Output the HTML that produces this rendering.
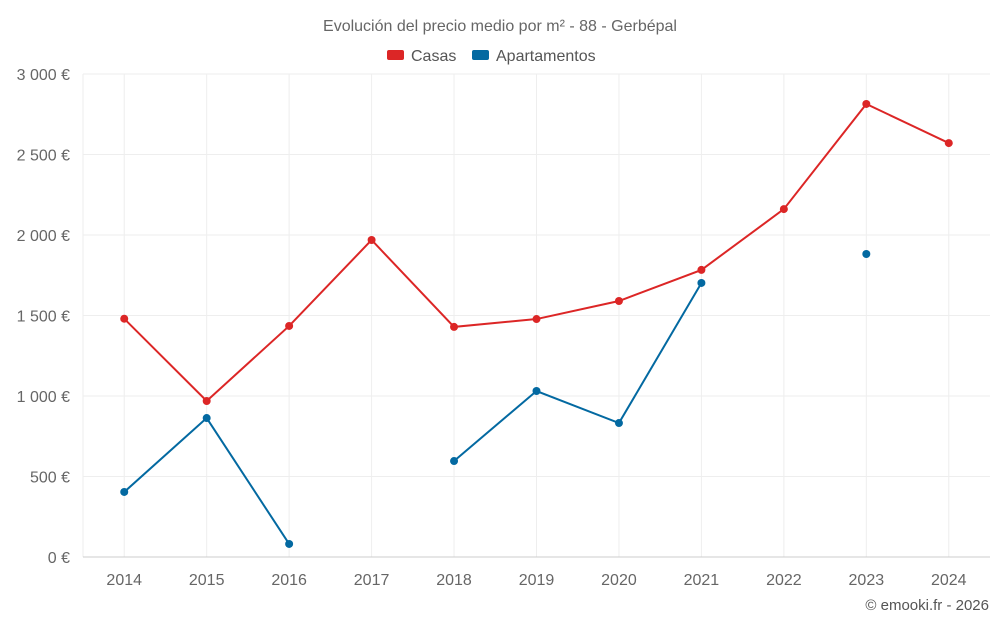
<!DOCTYPE html>
<html><head><meta charset="utf-8"><style>
body{margin:0;background:#fff;font-family:"Liberation Sans",sans-serif}
svg text{font-family:"Liberation Sans",sans-serif}
</style></head><body>
<svg id="chart" width="1000" height="625">
<text x="500" y="31" text-anchor="middle" font-size="16" fill="#666">Evolución del precio medio por m² - 88 - Gerbépal</text>
<g>
<g><rect x="387" y="50" width="17" height="10" rx="2" fill="#dc2626"/><text x="411" y="61" font-size="16" fill="#555">Casas</text></g>
<g><rect x="472" y="50" width="17" height="10" rx="2" fill="#0369a1"/><text x="496" y="61" font-size="16" fill="#555">Apartamentos</text></g>
</g>
<g id="grid"></g><g id="axes"></g><g id="series"></g>
<text x="989" y="610" text-anchor="end" font-size="15" fill="#555">© emooki.fr - 2026</text>
</svg>
<script>
const years=["2014","2015","2016","2017","2018","2019","2020","2021","2022","2023","2024"];
const casas=[1480,969,1435,1969,1429,1478,1590,1783,2161,2814,2571];
const apartamentos=[404,863,81,null,596,1031,832,1702,null,1882,null];
const yTicks=[0,500,1000,1500,2000,2500,3000];
const yLabels=["0 €","500 €","1 000 €","1 500 €","2 000 €","2 500 €","3 000 €"];
const L=83,R=990,T=74,B=557,NS="http://www.w3.org/2000/svg";
const cw=(R-L)/years.length;
const x=i=>L+cw*(i+0.5);
const y=v=>B-(v/3000)*(B-T);
function mk(tag,attrs,parent){const e=document.createElementNS(NS,tag);for(const k in attrs)e.setAttribute(k,attrs[k]);parent.appendChild(e);return e;}
const grid=document.getElementById('grid'),axes=document.getElementById('axes'),ser=document.getElementById('series');
const ledge=mk('line',{x1:L,x2:L,y1:T,y2:B,stroke:'#eee'},grid);


years.forEach((yr,i)=>{
 const l=mk('line',{x1:x(i),x2:x(i),y1:T,y2:B,stroke:'#eee'},grid);
 
 
});
yTicks.forEach((t,i)=>{
 const l=mk('line',{x1:L,x2:R,y1:y(t),y2:y(t),stroke:i==0?'#ccc':'#eee'},grid);
 
 
 const tx=mk('text',{x:70,y:y(t)+6,'text-anchor':'end','font-size':16,fill:'#666'},axes);
 tx.textContent=yLabels[i];
 
 
});
years.forEach((yr,i)=>{
 const tx=mk('text',{x:x(i),y:585,'text-anchor':'middle','font-size':16,fill:'#666'},axes);
 tx.textContent=yr;
 
 
});
function draw(data,color,name){
 let seg=[];const segs=[];
 data.forEach((v,i)=>{if(v==null){if(seg.length)segs.push(seg);seg=[];}else seg.push([x(i),y(v)]);});
 if(seg.length)segs.push(seg);
 segs.forEach(s=>{if(s.length>1){const p=mk('polyline',{points:s.map(p=>p.join(',')).join(' '),fill:'none',stroke:color,'stroke-width':2},ser);
 
 }});
 data.forEach((v,i)=>{if(v==null)return;const c=mk('circle',{cx:x(i),cy:y(v),r:4,fill:color},ser);
 
 });
}
draw(casas,'#dc2626','casas');
draw(apartamentos,'#0369a1','apartamentos');
</script>
</body></html>
